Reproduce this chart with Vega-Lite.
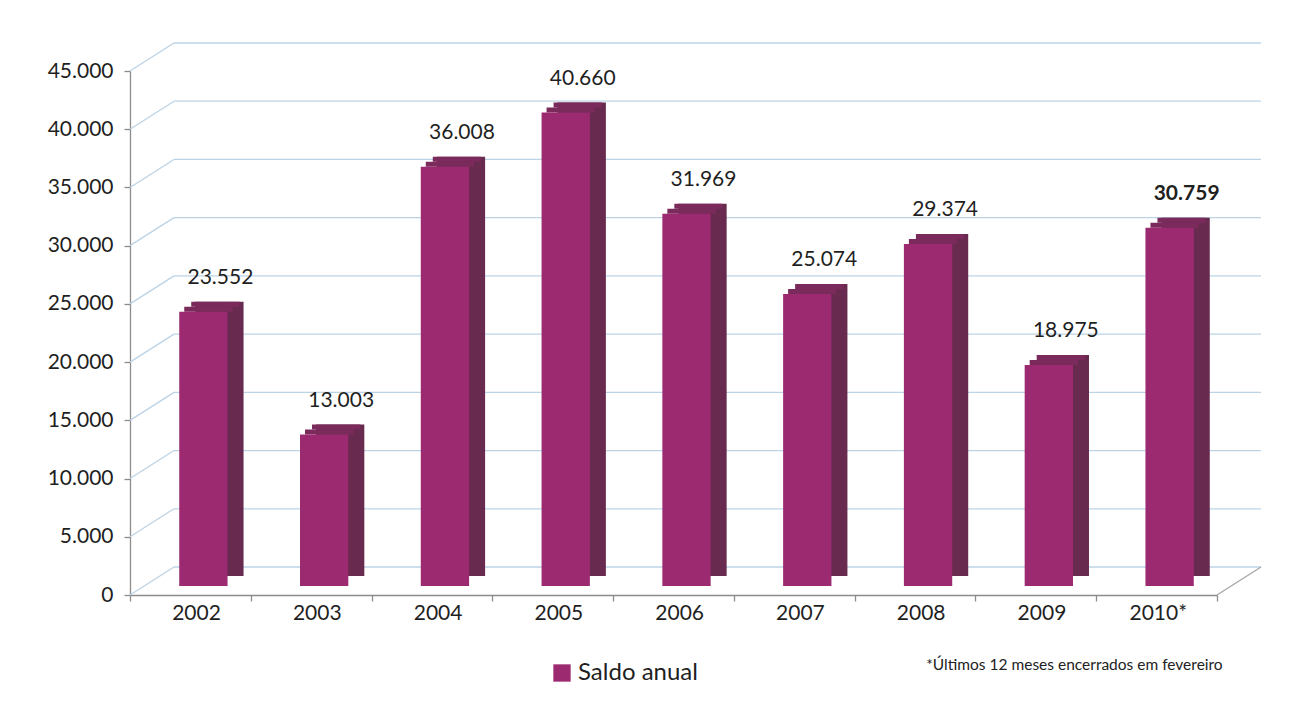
{
  "$schema": "https://vega.github.io/schema/vega-lite/v6.json",
  "autosize": "none",
  "width": 1087,
  "height": 524,
  "padding": {"left": 130, "top": 71, "right": 74, "bottom": 109},
  "background": "white",
  "config": {
    "view": {"stroke": null},
    "font": "Lato",
    "locale": {"number": {"decimal": ",", "thousands": ".", "grouping": [3], "currency": ["R$ ", ""]}}
  },
  "title": {
    "text": "*Últimos 12 meses encerrados em fevereiro",
    "orient": "bottom",
    "anchor": "end",
    "fontSize": 15.5,
    "fontWeight": "normal",
    "font": "Lato",
    "color": "#222222",
    "offset": -27,
    "dx": -39
  },
  "datasets": {
    "bars": [
      {"ano": "2002", "saldo": 23552},
      {"ano": "2003", "saldo": 13003},
      {"ano": "2004", "saldo": 36008},
      {"ano": "2005", "saldo": 40660},
      {"ano": "2006", "saldo": 31969},
      {"ano": "2007", "saldo": 25074},
      {"ano": "2008", "saldo": 29374},
      {"ano": "2009", "saldo": 18975},
      {"ano": "2010*", "saldo": 30759}
    ],
    "ticks": [
      {"v": 0}, {"v": 5000}, {"v": 10000}, {"v": 15000}, {"v": 20000},
      {"v": 25000}, {"v": 30000}, {"v": 35000}, {"v": 40000}, {"v": 45000}
    ],
    "floor": [{"v": 0}]
  },
  "layer": [
    {
      "data": {"name": "ticks"},
      "mark": {"type": "rule", "color": "#bcd3e6", "strokeWidth": 1.3, "xOffset": 44, "x2Offset": 44, "yOffset": -28, "y2Offset": -28},
      "encoding": {
        "y": {"field": "v", "type": "quantitative", "title": null, "scale": {"domain": [0, 45000], "nice": false}},
        "x": {"value": 0},
        "x2": {"value": {"expr": "width"}}
      }
    },
    {
      "data": {"name": "ticks"},
      "mark": {"type": "rule", "color": "#bcd3e6", "strokeWidth": 1.3, "x2Offset": 44, "y2Offset": -28},
      "encoding": {
        "y": {"field": "v", "type": "quantitative", "title": null},
        "y2": {"field": "v"},
        "x": {"value": 0},
        "x2": {"value": 0}
      }
    },
    {
      "data": {"name": "floor"},
      "mark": {"type": "rule", "color": "#a6a6a6", "strokeWidth": 1.3, "x2Offset": 44, "y2Offset": -28},
      "encoding": {
        "y": {"field": "v", "type": "quantitative", "title": null},
        "y2": {"field": "v"},
        "x": {"value": {"expr": "width"}},
        "x2": {"value": {"expr": "width"}}
      }
    },
    {
      "data": {"name": "bars"},
      "mark": {"type": "bar", "color": "#682a4f", "width": {"band": 0.4}, "xOffset": 29, "yOffset": -19, "y2Offset": -19},
      "encoding": {
        "x": {"field": "ano", "type": "nominal", "sort": null, "title": null,
              "scale": {"paddingInner": 0, "paddingOuter": 0}},
        "y": {"field": "saldo", "type": "quantitative", "title": null}
      }
    },
    {
      "data": {"name": "bars"},
      "mark": {"type": "bar", "color": "#7b2b5b", "width": {"band": 0.4}, "xOffset": 25, "yOffset": -19, "y2Offset": -14},
      "encoding": {
        "x": {"field": "ano", "type": "nominal", "sort": null, "title": null},
        "y": {"field": "saldo", "type": "quantitative", "title": null},
        "y2": {"field": "saldo"}
      }
    },
    {
      "data": {"name": "bars"},
      "mark": {"type": "bar", "color": "#7b2b5b", "width": {"band": 0.4}, "xOffset": 18, "yOffset": -14, "y2Offset": -9},
      "encoding": {
        "x": {"field": "ano", "type": "nominal", "sort": null, "title": null},
        "y": {"field": "saldo", "type": "quantitative", "title": null},
        "y2": {"field": "saldo"}
      }
    },
    {
      "data": {"name": "bars"},
      "mark": {"type": "bar", "width": {"band": 0.4}, "xOffset": 13, "yOffset": -9, "y2Offset": -9},
      "encoding": {
        "x": {"field": "ano", "type": "nominal", "sort": null, "title": null,
              "axis": {"domainColor": "#8c8c8c", "domainWidth": 1.3, "tickColor": "#8c8c8c", "tickWidth": 1.3, "tickSize": 6,
                       "tickBand": "extent", "labelAngle": 0, "labelFontSize": 21, "labelFont": "Lato", "labelColor": "#1f1f1f",
                       "labelPadding": 12, "labelOffset": 30}},
        "y": {"field": "saldo", "type": "quantitative", "title": null,
              "axis": {"values": [0, 5000, 10000, 15000, 20000, 25000, 30000, 35000, 40000, 45000], "format": ",d",
                       "grid": false, "domainColor": "#8c8c8c", "domainWidth": 1.3, "tickColor": "#8c8c8c", "tickWidth": 1.3, "tickSize": 6,
                       "labelFontSize": 21, "labelFont": "Lato", "labelColor": "#1f1f1f", "labelPadding": 11}},
        "color": {"datum": "Saldo anual", "type": "nominal",
                  "scale": {"range": ["#9b2a70"]},
                  "legend": {"title": null, "orient": "none", "legendX": 420, "legendY": 590, "symbolType": "square",
                             "symbolSize": 300, "symbolStrokeWidth": 0, "labelFontSize": 24, "labelFont": "Lato",
                             "labelColor": "#1f1f1f", "labelOffset": 4}}
      }
    },
    {
      "data": {"name": "bars"},
      "mark": {"type": "text", "xOffset": 30, "dy": -37, "baseline": "alphabetic", "fontSize": 21, "font": "Lato", "color": "#1f1f1f",
               "fontWeight": {"expr": "datum.ano === '2010*' ? 'bold' : 'normal'"}},
      "encoding": {
        "x": {"field": "ano", "type": "nominal", "sort": null, "title": null},
        "y": {"field": "saldo", "type": "quantitative", "title": null},
        "text": {"field": "saldo", "type": "quantitative", "format": ",d"}
      }
    }
  ]
}
